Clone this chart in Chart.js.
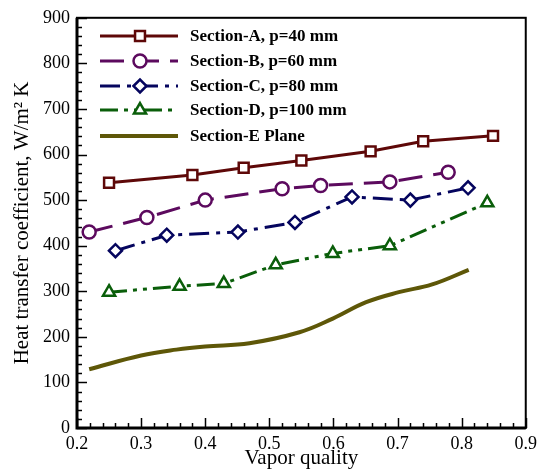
<!DOCTYPE html>
<html>
<head>
<meta charset="utf-8">
<script src="https://cdn.jsdelivr.net/npm/chart.js@4"></script>
<style>
  body { margin: 0; background: #fff; }
  #wrap { width: 542px; height: 471px; }
</style>
</head>
<body>
<div id="wrap"><canvas id="myChart"></canvas></div>
<script>
// data
const labels = ['Section-A, p=40 mm', 'Section-B, p=60 mm', 'Section-C, p=80 mm', 'Section-D, p=100 mm', 'Section-E Plane'];
const xA = [0.25, 0.38, 0.46, 0.55, 0.658, 0.74, 0.849];
const yA = [538, 555, 571, 587, 607, 629, 641];
const xB = [0.219, 0.309, 0.40, 0.52, 0.58, 0.688, 0.779];
const yB = [430, 462, 500, 525, 532, 540, 561];
const xC = [0.26, 0.34, 0.451, 0.54, 0.629, 0.72, 0.81];
const yC = [389, 423, 430, 451, 507, 500, 527];
const xD = [0.25, 0.36, 0.429, 0.51, 0.599, 0.688, 0.84];
const yD = [298, 311, 317, 358, 383, 400, 494];
const xE = [0.219, 0.30, 0.355, 0.40, 0.469, 0.547, 0.599, 0.651, 0.702, 0.754, 0.811];
const yE = [129, 159, 172, 179, 186, 210, 240, 276, 298, 315, 347];

const font = "'Liberation Serif', 'Times New Roman', serif";

function pts(xs, ys) {
    return xs.map((x, i) => ({x: x, y: ys[i]}));
}

function series(i, xs, ys, color, dash, style, radius, width) {
    return {
        label: labels[i],
        data: pts(xs, ys),
        borderColor: color,
        borderWidth: width,
        borderDash: dash,
        pointStyle: style,
        pointRadius: radius,
        pointBorderWidth: 2.5,
        pointBorderColor: color,
        pointBackgroundColor: '#fff',
        tension: 0
    };
}

let datasets = [
    series(0, xA, yA, '#5e0808', [], 'rect', 7, 3),
    series(1, xB, yB, '#5c0a5e', [24, 11], 'circle', 6.5, 3),
    series(2, xC, yC, '#05055e', [20, 7, 4, 7], 'rectRot', 6.5, 3),
    series(3, xD, yD, '#0a5e0a', [18, 6, 4, 6, 4, 6], 'triangle', 7, 3),
    series(4, xE, yE, '#5e5708', [], false, 0, 4)
];
datasets[4].tension = 0.4;

// inward ticks, frame and legend box
const decor = {
    id: 'decor',
    afterDraw(chart) {
        const ctx = chart.ctx;
        const a = chart.chartArea;
        const xs = chart.scales.x, ys = chart.scales.y;
        ctx.save();
        ctx.strokeStyle = '#000';
        ctx.lineWidth = 1.5;
        for (let v = 0; v <= 900; v += 20) {
            const py = Math.round(ys.getPixelForValue(v)) + 0.5;
            const len = v % 100 === 0 ? 10 : 5;
            ctx.beginPath(); ctx.moveTo(a.left, py); ctx.lineTo(a.left + len, py); ctx.stroke();
        }
        for (let k = 0; k <= 35; k++) {
            const v = 0.2 + k * 0.02;
            const px = Math.round(xs.getPixelForValue(v)) + 0.5;
            const len = k % 5 === 0 ? 10 : 5;
            ctx.beginPath(); ctx.moveTo(px, a.bottom); ctx.lineTo(px, a.bottom - len); ctx.stroke();
        }
        ctx.lineWidth = 2;
        ctx.strokeRect(a.left, a.top, a.right - a.left, a.bottom - a.top);
        ctx.lineWidth = 3;
        ctx.beginPath();
        ctx.moveTo(a.left, a.top); ctx.lineTo(a.left, a.bottom); ctx.lineTo(a.right, a.bottom);
        ctx.stroke();

        // legend
        const rowY = [36, 61, 86, 110, 136];
        chart.data.datasets.forEach((ds, i) => {
            const y = rowY[i];
            ctx.strokeStyle = ds.borderColor;
            ctx.lineWidth = ds.borderWidth;
            ctx.setLineDash(ds.borderDash);
            ctx.beginPath(); ctx.moveTo(100, y); ctx.lineTo(178, y); ctx.stroke();
            ctx.setLineDash([]);
            if (ds.pointStyle) {
                ctx.fillStyle = '#fff';
                ctx.strokeStyle = ds.borderColor;
                ctx.lineWidth = ds.pointBorderWidth;
                Chart.helpers.drawPoint(ctx, {pointStyle: ds.pointStyle, radius: ds.pointRadius, rotation: 0, borderWidth: ds.pointBorderWidth}, 140, y);
            }
            ctx.fillStyle = '#000';
            ctx.font = 'bold 17px ' + font;
            ctx.textBaseline = 'middle';
            ctx.fillText(ds.label, 190, y + 1);
        });
        ctx.restore();
    }
};

let myChart = document.getElementById('myChart').getContext('2d');
let hChart = new Chart(myChart, {
    type: 'line',
    data: { datasets: datasets },
    options: {
        responsive: true,
        maintainAspectRatio: false,
        animation: false,
        layout: { padding: { top: 15, right: 15, left: 0, bottom: 0 } },
        plugins: { legend: { display: false }, tooltip: { enabled: false } },
        scales: {
            x: {
                type: 'linear',
                min: 0.2, max: 0.9,
                grid: { display: false, drawTicks: false },
                border: { display: false },
                ticks: {
                    stepSize: 0.1,
                    padding: 5,
                    color: '#000',
                    font: { family: font, size: 18 },
                    maxRotation: 0,
                    callback: v => v.toFixed(1)
                },
                title: {
                    display: true,
                    text: 'Vapor quality',
                    color: '#000',
                    font: { family: font, size: 21 },
                    padding: { top: 0, bottom: 0 }
                },
                afterFit: s => { s.height = 43; }
            },
            y: {
                min: 0, max: 900,
                grid: { display: false, drawTicks: false },
                border: { display: false },
                ticks: {
                    stepSize: 100,
                    padding: 7,
                    color: '#000',
                    font: { family: font, size: 18 }
                },
                title: {
                    display: true,
                    text: 'Heat transfer coefficient, W/m\u00B2 K',
                    color: '#000',
                    font: { family: font, size: 21 },
                    padding: { top: 10, bottom: 0 }
                },
                afterFit: s => { s.width = 77; }
            }
        }
    },
    plugins: [decor]
});
</script>
</body>
</html>
